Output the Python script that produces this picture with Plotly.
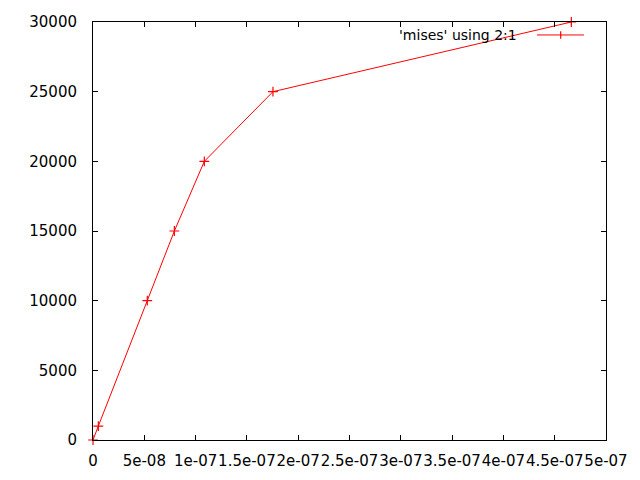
import plotly.graph_objects as go

# data: column 2 (x) vs column 1 (y)
strain = [0, 5.2e-09, 5.29e-08, 7.93e-08, 1.085e-07, 1.754e-07, 4.662e-07]
mises = [0, 1000, 10000, 15000, 20000, 25000, 30000]

x_tickvals = [0, 5e-08, 1e-07, 1.5e-07, 2e-07, 2.5e-07, 3e-07, 3.5e-07, 4e-07, 4.5e-07, 5e-07]
x_ticktext = ["0", "5e-08", "1e-07", "1.5e-07", "2e-07", "2.5e-07", "3e-07", "3.5e-07", "4e-07", "4.5e-07", "5e-07"]
y_tickvals = [0, 5000, 10000, 15000, 20000, 25000, 30000]
y_ticktext = ["0", "5000", "10000", "15000", "20000", "25000", "30000"]
legend_label = "'mises' using 2:1"

FONT = "DejaVu Sans"

fig = go.Figure()
fig.add_trace(go.Scatter(
    x=strain, y=mises, mode="lines+markers",
    line=dict(color="red", width=1),
    marker=dict(symbol="cross-thin", size=7, line=dict(color="red", width=1.2), color="red"),
    showlegend=False, cliponaxis=False,
))

# gnuplot-style key: text then line sample with point
fig.add_annotation(x=0.830, y=0.969, xref="paper", yref="paper", text=legend_label,
                   showarrow=False, xanchor="right", yanchor="middle",
                   font=dict(family=FONT, size=14, color="black"))
fig.add_shape(type="line", xref="paper", yref="paper", x0=0.8655, x1=0.957, y0=0.969, y1=0.969,
              line=dict(color="red", width=1))
fig.add_shape(type="line", xref="paper", yref="paper", x0=0.9117, x1=0.9117, y0=0.960, y1=0.978,
              line=dict(color="red", width=1.2))

axis_common = dict(
    showline=True, linecolor="black", linewidth=1, mirror="allticks",
    ticks="inside", ticklen=5, tickcolor="black", tickwidth=1,
    showgrid=False, zeroline=False, automargin=False, tickangle=0,
    tickfont=dict(family=FONT, size=15, color="black"),
)
fig.update_xaxes(range=[0, 5e-07], tickmode="array", tickvals=x_tickvals, ticktext=x_ticktext,
                 ticklabelstandoff=7, ticklabeloverflow="allow", **axis_common)
fig.update_yaxes(range=[0, 30000], tickmode="array", tickvals=y_tickvals, ticktext=y_ticktext,
                 ticklabelstandoff=12, **axis_common)

fig.update_layout(
    width=640, height=480,
    margin=dict(l=93, r=34, t=22, b=40, pad=0),
    paper_bgcolor="white", plot_bgcolor="white",
    font=dict(family=FONT, size=15, color="black"),
)
fig.write_html("out.html", config={"displayModeBar": False},
               post_script="document.body.style.margin='0';document.body.style.overflow='hidden';")
